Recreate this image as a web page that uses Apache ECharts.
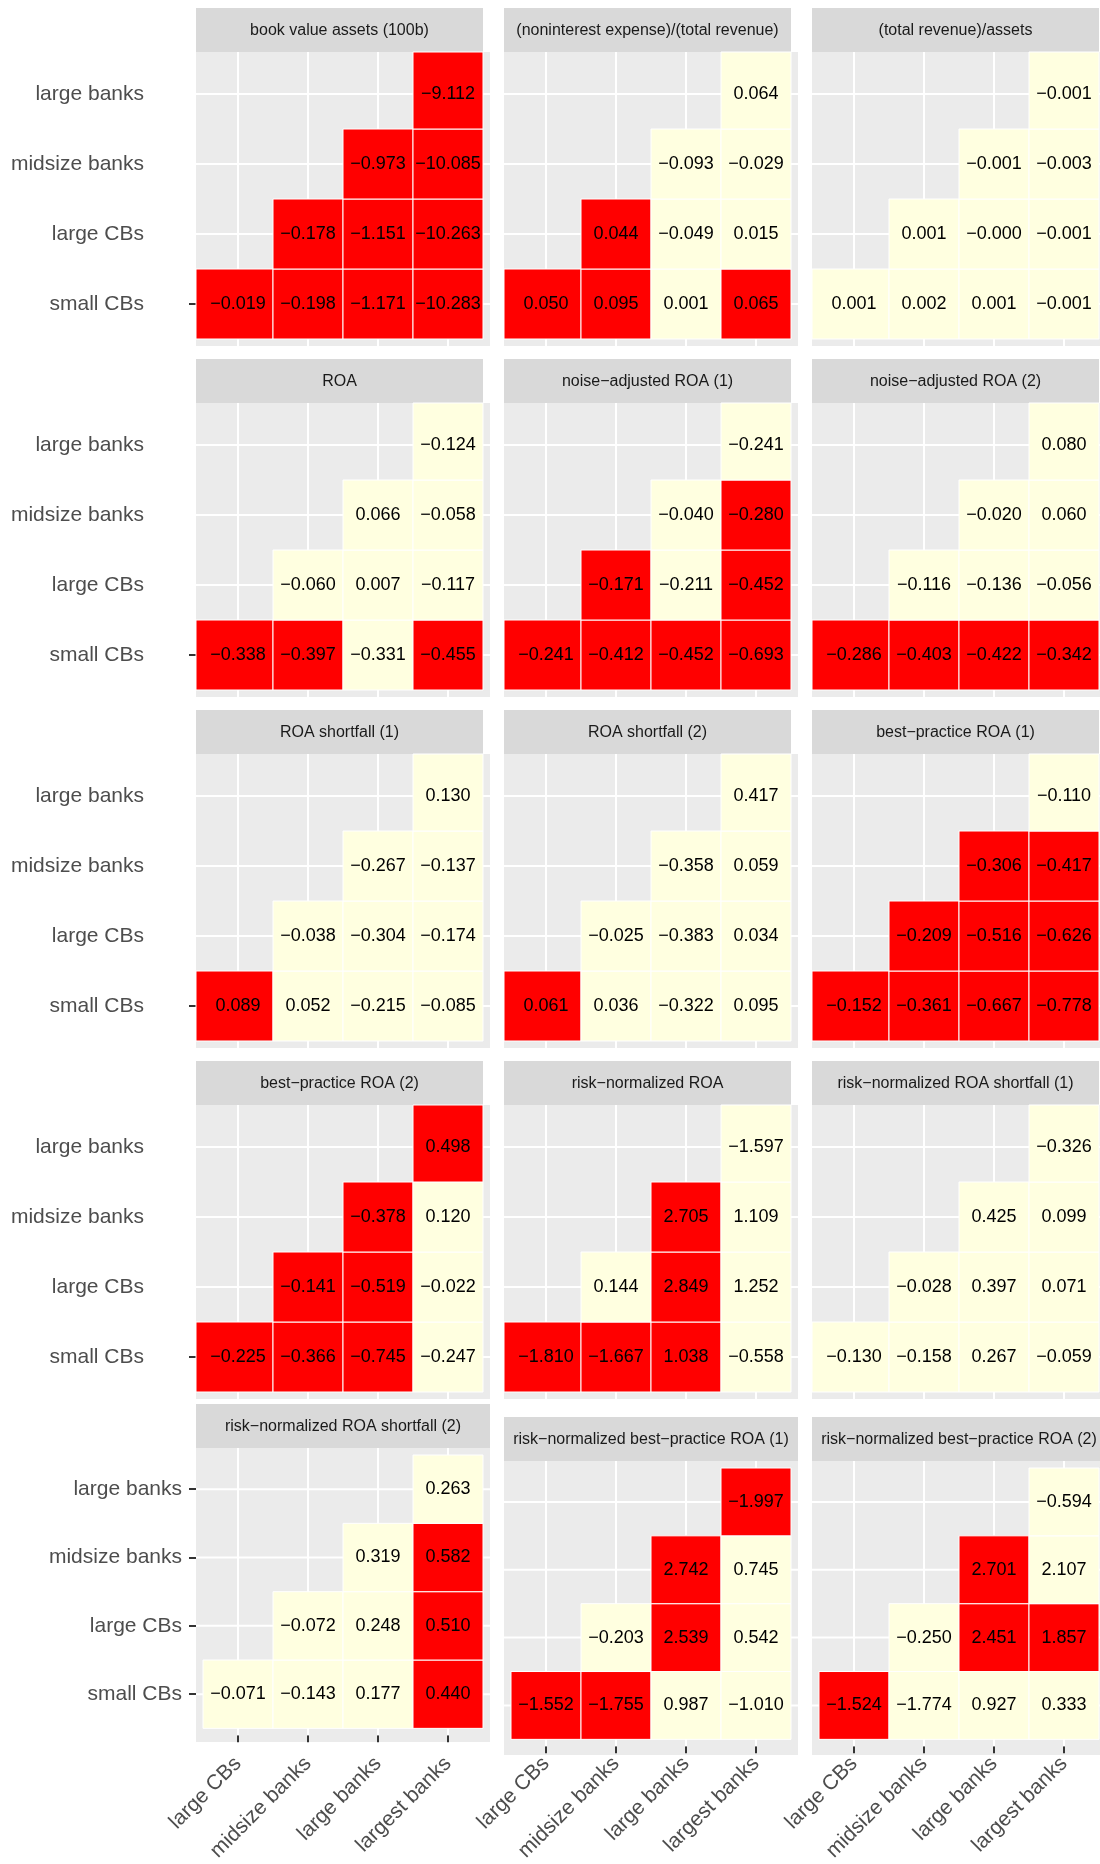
<!DOCTYPE html>
<html>
<head>
<meta charset="utf-8">
<script src="https://cdn.jsdelivr.net/npm/echarts@6/dist/echarts.min.js"></script>
<style>
html,body{margin:0;padding:0;background:#ffffff;}
#chart{width:1100px;height:1864px;}
</style>
</head>
<body>
<div id="chart"></div>
<script>
// ---------------- data ----------------
const xCategories = ['large CBs', 'midsize banks', 'large banks', 'largest banks'];
const yCategories = ['small CBs', 'large CBs', 'midsize banks', 'large banks'];

const panelTitles = [
  'book value assets (100b)',
  '(noninterest expense)/(total revenue)',
  '(total revenue)/assets',
  'ROA',
  'noise\u2212adjusted ROA (1)',
  'noise\u2212adjusted ROA (2)',
  'ROA shortfall (1)',
  'ROA shortfall (2)',
  'best\u2212practice ROA (1)',
  'best\u2212practice ROA (2)',
  'risk\u2212normalized ROA',
  'risk\u2212normalized ROA shortfall (1)',
  'risk\u2212normalized ROA shortfall (2)',
  'risk\u2212normalized best\u2212practice ROA (1)',
  'risk\u2212normalized best\u2212practice ROA (2)'
];

// values per panel, in order: small CBs row (4 cells), large CBs row (3), midsize banks row (2), large banks row (1)
const valBookValue      = [-0.019, -0.198, -1.171, -10.283, -0.178, -1.151, -10.263, -0.973, -10.085, -9.112];
const valNonintExpense  = [0.050, 0.095, 0.001, 0.065, 0.044, -0.049, 0.015, -0.093, -0.029, 0.064];
const valRevenueAssets  = [0.001, 0.002, 0.001, -0.001, 0.001, -0.0004, -0.001, -0.001, -0.003, -0.001];
const valROA            = [-0.338, -0.397, -0.331, -0.455, -0.060, 0.007, -0.117, 0.066, -0.058, -0.124];
const valNoiseROA1      = [-0.241, -0.412, -0.452, -0.693, -0.171, -0.211, -0.452, -0.040, -0.280, -0.241];
const valNoiseROA2      = [-0.286, -0.403, -0.422, -0.342, -0.116, -0.136, -0.056, -0.020, 0.060, 0.080];
const valShortfall1     = [0.089, 0.052, -0.215, -0.085, -0.038, -0.304, -0.174, -0.267, -0.137, 0.130];
const valShortfall2     = [0.061, 0.036, -0.322, 0.095, -0.025, -0.383, 0.034, -0.358, 0.059, 0.417];
const valBestPractice1  = [-0.152, -0.361, -0.667, -0.778, -0.209, -0.516, -0.626, -0.306, -0.417, -0.110];
const valBestPractice2  = [-0.225, -0.366, -0.745, -0.247, -0.141, -0.519, -0.022, -0.378, 0.120, 0.498];
const valRiskROA        = [-1.810, -1.667, 1.038, -0.558, 0.144, 2.849, 1.252, 2.705, 1.109, -1.597];
const valRiskShortfall1 = [-0.130, -0.158, 0.267, -0.059, -0.028, 0.397, 0.071, 0.425, 0.099, -0.326];
const valRiskShortfall2 = [-0.071, -0.143, 0.177, 0.440, -0.072, 0.248, 0.510, 0.319, 0.582, 0.263];
const valRiskBest1      = [-1.552, -1.755, 0.987, -1.010, -0.203, 2.539, 0.542, 2.742, 0.745, -1.997];
const valRiskBest2      = [-1.524, -1.774, 0.927, 0.333, -0.250, 2.451, 1.857, 2.701, 2.107, -0.594];

// highlighted (red) cells, same order (1 = red, 0 = light yellow)
const hiBookValue      = [1, 1, 1, 1, 1, 1, 1, 1, 1, 1];
const hiNonintExpense  = [1, 1, 0, 1, 1, 0, 0, 0, 0, 0];
const hiRevenueAssets  = [0, 0, 0, 0, 0, 0, 0, 0, 0, 0];
const hiROA            = [1, 1, 0, 1, 0, 0, 0, 0, 0, 0];
const hiNoiseROA1      = [1, 1, 1, 1, 1, 0, 1, 0, 1, 0];
const hiNoiseROA2      = [1, 1, 1, 1, 0, 0, 0, 0, 0, 0];
const hiShortfall1     = [1, 0, 0, 0, 0, 0, 0, 0, 0, 0];
const hiShortfall2     = [1, 0, 0, 0, 0, 0, 0, 0, 0, 0];
const hiBestPractice1  = [1, 1, 1, 1, 1, 1, 1, 1, 1, 0];
const hiBestPractice2  = [1, 1, 1, 0, 1, 1, 0, 1, 0, 1];
const hiRiskROA        = [1, 1, 1, 0, 0, 1, 0, 1, 0, 0];
const hiRiskShortfall1 = [0, 0, 0, 0, 0, 0, 0, 0, 0, 0];
const hiRiskShortfall2 = [0, 0, 0, 1, 0, 0, 1, 0, 1, 0];
const hiRiskBest1      = [1, 1, 0, 0, 0, 1, 0, 1, 0, 1];
const hiRiskBest2      = [1, 0, 0, 0, 0, 1, 1, 1, 0, 0];

const panelValues = [valBookValue, valNonintExpense, valRevenueAssets, valROA, valNoiseROA1, valNoiseROA2,
  valShortfall1, valShortfall2, valBestPractice1, valBestPractice2, valRiskROA, valRiskShortfall1,
  valRiskShortfall2, valRiskBest1, valRiskBest2];
const panelHighlights = [hiBookValue, hiNonintExpense, hiRevenueAssets, hiROA, hiNoiseROA1, hiNoiseROA2,
  hiShortfall1, hiShortfall2, hiBestPractice1, hiBestPractice2, hiRiskROA, hiRiskShortfall1,
  hiRiskShortfall2, hiRiskBest1, hiRiskBest2];

// ---------------- layout ----------------
const FONT = '"Liberation Sans", Arial, Helvetica, sans-serif';
const colX = [196, 504, 812];
const rowTops = [[8, 8, 8], [359, 359, 359], [710, 710, 710], [1061, 1061, 1061], [1404, 1417, 1417]];
const STRIP_H = 44, PAD = 7, CELLS = 280;

// upper-triangle cell index list (x >= y)
const cellPos = [];
for (let y = 0; y < yCategories.length; y++) {
  for (let x = y; x < xCategories.length; x++) cellPos.push([x, y]);
}

function fmt(v) {
  return v.toFixed(3).replace('-', '\u2212');
}

const grids = [], xAxes = [], yAxes = [], series = [], graphics = [];

panelTitles.forEach(function (title, i) {
  const row = Math.floor(i / 3), col = i % 3;
  const lastRow = row === 4;
  const x0 = colX[col];
  const top = rowTops[row][col];
  const stripW = lastRow ? 294 : 287;

  // strip
  graphics.push({
    type: 'rect', z: 0, silent: true,
    shape: { x: x0, y: top, width: stripW, height: STRIP_H },
    style: { fill: '#d9d9d9' }
  });
  graphics.push({
    type: 'text', z: 1, silent: true,
    style: {
      text: title, x: x0 + stripW / 2, y: top + STRIP_H / 2 + 1,
      textAlign: 'center', textVerticalAlign: 'middle', align: 'center', verticalAlign: 'middle',
      font: '16px ' + FONT, fill: '#1a1a1a'
    }
  });
  // panel background
  graphics.push({
    type: 'rect', z: 0, silent: true,
    shape: { x: x0, y: top + STRIP_H, width: CELLS + 2 * PAD, height: CELLS + 2 * PAD },
    style: { fill: '#ebebeb' }
  });

  grids.push({ left: x0 + PAD, top: top + STRIP_H + PAD, width: CELLS, height: CELLS, containLabel: false });

  xAxes.push({
    type: 'category', gridIndex: i, data: xCategories, position: 'bottom',
    show: lastRow, offset: PAD,
    axisLine: { show: false },
    axisTick: { show: lastRow, alignWithLabel: true, length: 7, lineStyle: { color: '#333333', width: 2 } },
    axisLabel: { show: lastRow, rotate: 45, margin: col === 0 ? 25 : 14, fontSize: 21, color: '#4d4d4d', fontFamily: FONT, interval: 0 },
    splitLine: { show: false }
  });

  yAxes.push({
    type: 'category', gridIndex: i, data: yCategories, position: 'left',
    show: col === 0, offset: PAD,
    axisLine: { show: false },
    axisTick: {
      show: col === 0, alignWithLabel: true, length: 7,
      interval: lastRow ? 0 : function (idx) { return idx === 0; },
      lineStyle: { color: '#333333', width: 2 }
    },
    axisLabel: { show: col === 0, margin: lastRow ? 14 : 52, fontSize: 21, color: '#4d4d4d', fontFamily: FONT, interval: 0 },
    splitLine: { show: false }
  });

  // white grid lines through category centres
  series.push({
    type: 'custom', xAxisIndex: i, yAxisIndex: i, z: 1, silent: true, clip: false,
    data: xCategories.map(function (c, k) { return [k, k]; }),
    renderItem: function (params, api) {
      const cs = params.coordSys;
      const p = api.coord([api.value(0), api.value(1)]);
      return {
        type: 'group',
        children: [
          { type: 'line', shape: { x1: p[0], y1: cs.y - PAD, x2: p[0], y2: cs.y + cs.height + PAD }, style: { stroke: '#ffffff', lineWidth: 2 } },
          { type: 'line', shape: { x1: cs.x - PAD, y1: p[1], x2: cs.x + cs.width + PAD, y2: p[1] }, style: { stroke: '#ffffff', lineWidth: 2 } }
        ]
      };
    }
  });

  // tiles
  const vals = panelValues[i], his = panelHighlights[i];
  const extend = !lastRow;
  series.push({
    type: 'custom', xAxisIndex: i, yAxisIndex: i, z: 3, silent: true, clip: false,
    data: cellPos.map(function (p, k) { return [p[0], p[1], vals[k], his[k]]; }),
    renderItem: function (params, api) {
      const xi = api.value(0), yi = api.value(1), v = api.value(2), hi = api.value(3);
      const c = api.coord([xi, yi]);
      const s = api.size([1, 1]);
      let x = c[0] - s[0] / 2, y = c[1] - s[1] / 2, w = s[0], h = s[1];
      if (extend) {
        if (xi === 0) { x -= PAD; w += PAD; }
        if (yi === yCategories.length - 1) { y -= PAD; h += PAD; }
      }
      return {
        type: 'group',
        children: [
          { type: 'rect', shape: { x: x, y: y, width: w, height: h },
            style: { fill: hi ? '#ff0000' : '#ffffe0', stroke: '#ffffff', lineWidth: 1 } },
          { type: 'text', style: {
              text: fmt(v), x: c[0], y: c[1],
              textAlign: 'center', textVerticalAlign: 'middle', align: 'center', verticalAlign: 'middle',
              font: '18px ' + FONT, fill: '#000000' } }
        ]
      };
    }
  });
});

const chart = echarts.init(document.getElementById('chart'), null, { renderer: 'canvas' });
chart.setOption({
  animation: false,
  backgroundColor: '#ffffff',
  grid: grids,
  xAxis: xAxes,
  yAxis: yAxes,
  series: series,
  graphic: { elements: graphics }
});
</script>
</body>
</html>
